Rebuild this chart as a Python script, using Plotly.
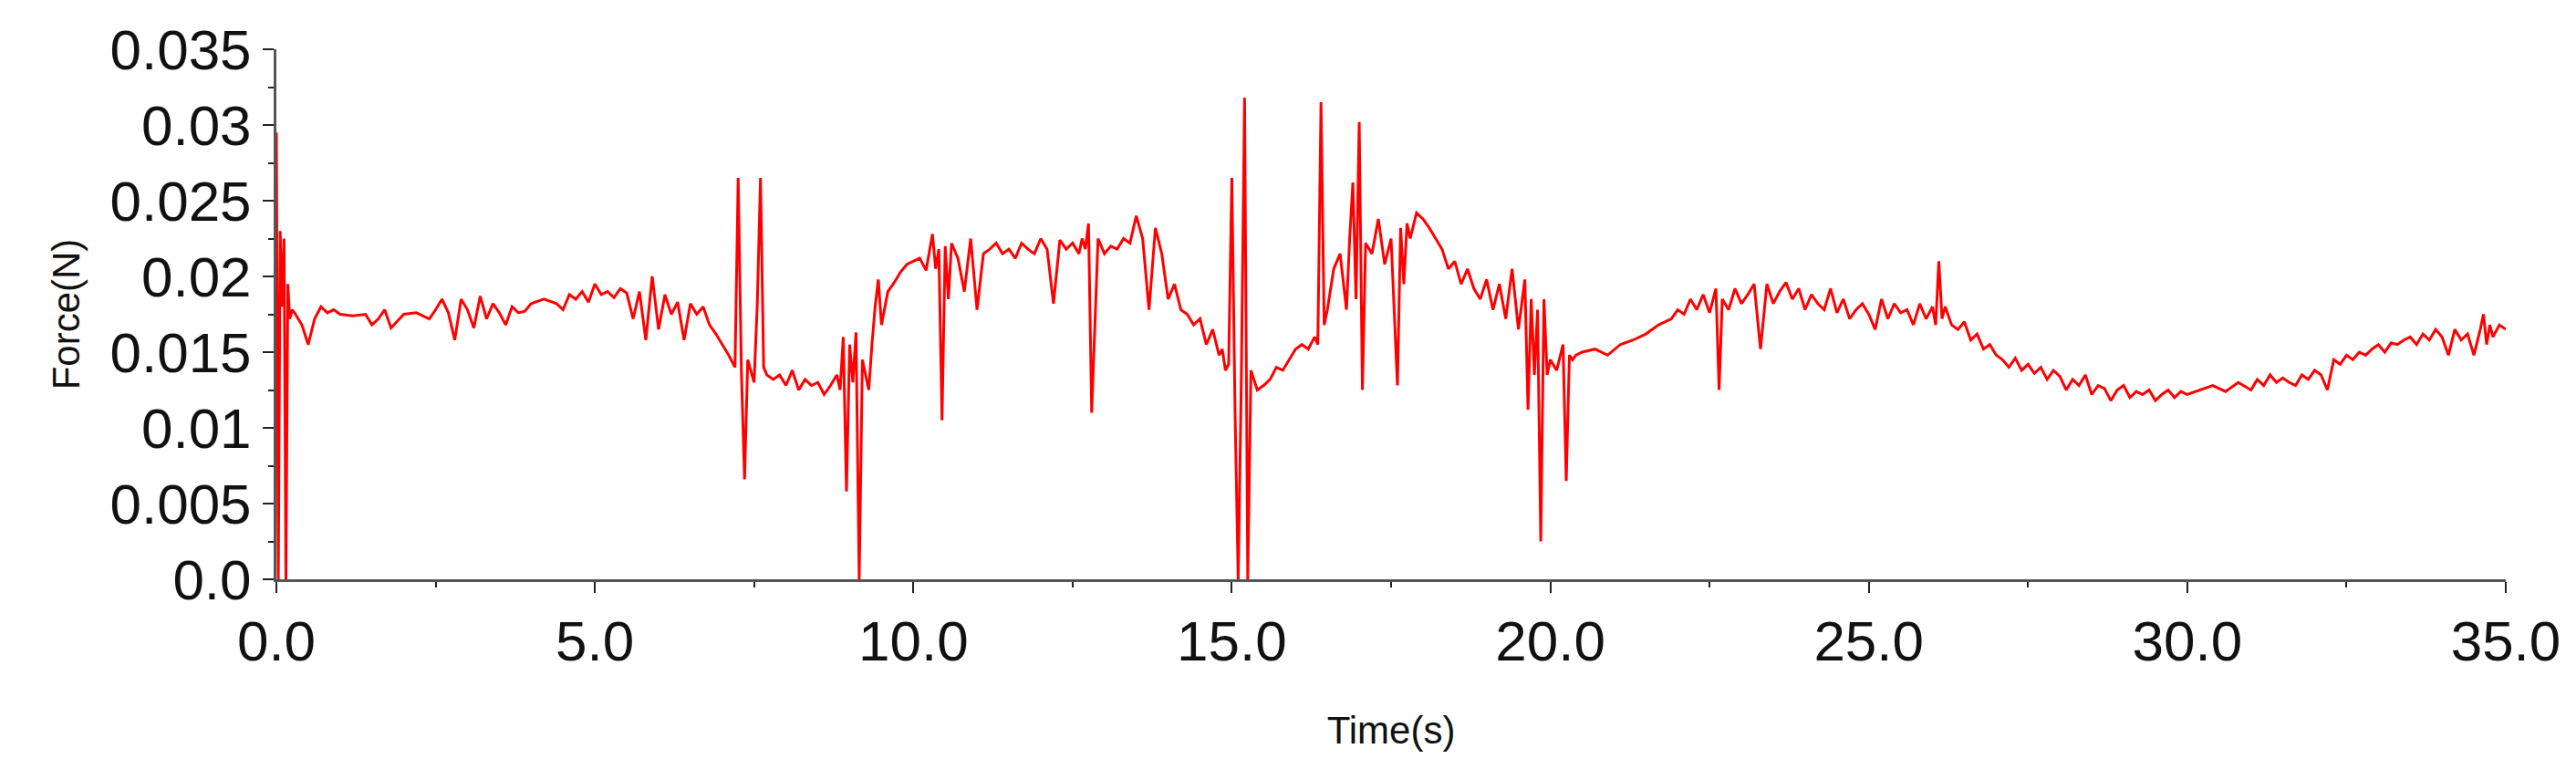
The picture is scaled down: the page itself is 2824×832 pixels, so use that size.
import plotly.graph_objects as go

# (time s, force N) samples
samples = [
(0.0,0.0295),(0.03,0.0),(0.06,0.023),(0.09,0.018),(0.12,0.0225),(0.15,0.0),(0.18,0.0195),(0.21,0.0172),
(0.25,0.0178),(0.3,0.0175),(0.4,0.0168),(0.5,0.0155),(0.6,0.0172),(0.7,0.018),(0.8,0.0176),(0.9,0.0178),
(1.0,0.0175),(1.2,0.0174),(1.4,0.0175),(1.5,0.0168),(1.6,0.0172),(1.7,0.0178),(1.8,0.0166),(2.0,0.0175),
(2.2,0.0176),(2.4,0.0172),(2.5,0.0178),(2.6,0.0185),(2.7,0.0176),(2.8,0.0158),(2.9,0.0185),(3.0,0.0178),
(3.1,0.0166),(3.2,0.0187),(3.3,0.0172),(3.4,0.0182),(3.5,0.0176),(3.6,0.0168),(3.7,0.018),(3.8,0.0176),
(3.9,0.0177),(4.0,0.0182),(4.2,0.0185),(4.4,0.0182),(4.5,0.0178),(4.6,0.0188),(4.7,0.0185),(4.8,0.019),
(4.9,0.0183),(5.0,0.0195),(5.1,0.0188),(5.2,0.019),(5.3,0.0186),(5.4,0.0192),(5.5,0.0189),(5.6,0.0172),
(5.7,0.019),(5.8,0.0158),(5.9,0.02),(6.0,0.0165),(6.1,0.0188),(6.2,0.0175),(6.3,0.0183),(6.4,0.0158),
(6.5,0.0182),(6.6,0.0175),(6.7,0.018),(6.8,0.0168),(6.9,0.0162),(7.0,0.0155),(7.1,0.0148),(7.2,0.014),
(7.25,0.0265),(7.3,0.0138),(7.35,0.0066),(7.4,0.0145),(7.5,0.013),(7.55,0.0182),(7.6,0.0265),(7.65,0.014),
(7.7,0.0135),(7.8,0.0132),(7.9,0.0135),(8.0,0.0128),(8.1,0.0138),(8.2,0.0125),(8.3,0.0132),(8.4,0.0128),
(8.5,0.013),(8.6,0.0122),(8.7,0.0128),(8.8,0.0135),(8.85,0.0125),(8.9,0.016),(8.95,0.0058),(9.0,0.0155),
(9.05,0.013),(9.1,0.0163),(9.15,0.0),(9.2,0.0145),(9.3,0.0125),(9.35,0.0155),(9.4,0.018),(9.45,0.0198),
(9.5,0.0168),(9.6,0.019),(9.7,0.0196),(9.8,0.0203),(9.9,0.0208),(10.0,0.021),(10.1,0.0212),(10.2,0.0204),
(10.3,0.0228),(10.35,0.0205),(10.4,0.0218),(10.45,0.0105),(10.5,0.022),(10.55,0.0185),(10.6,0.0222),
(10.7,0.0212),(10.8,0.019),(10.9,0.0225),(11.0,0.0178),(11.1,0.0215),(11.2,0.0218),(11.3,0.0222),
(11.4,0.0215),(11.5,0.0218),(11.6,0.0212),(11.7,0.0222),(11.8,0.0218),(11.9,0.0215),(12.0,0.0225),
(12.1,0.0218),(12.2,0.0182),(12.3,0.0224),(12.4,0.0218),(12.5,0.0222),(12.6,0.0215),(12.65,0.0225),
(12.7,0.0218),(12.75,0.0235),(12.8,0.011),(12.9,0.0225),(13.0,0.0215),(13.1,0.022),(13.2,0.0218),
(13.3,0.0225),(13.4,0.0222),(13.5,0.024),(13.6,0.0225),(13.7,0.0178),(13.8,0.0232),(13.9,0.0215),
(14.0,0.0185),(14.1,0.0195),(14.2,0.0178),(14.3,0.0175),(14.4,0.0168),(14.5,0.0172),(14.6,0.0155),
(14.7,0.0165),(14.8,0.0148),(14.85,0.0152),(14.9,0.0138),(14.95,0.0142),(15.0,0.0265),(15.05,0.0112),
(15.1,0.0),(15.15,0.0135),(15.2,0.0318),(15.25,0.0),(15.3,0.0138),(15.4,0.0125),(15.5,0.0128),
(15.6,0.0132),(15.7,0.014),(15.8,0.0138),(15.9,0.0145),(16.0,0.0152),(16.1,0.0155),(16.2,0.0152),
(16.3,0.016),(16.35,0.0155),(16.4,0.0315),(16.45,0.0168),(16.5,0.0178),(16.6,0.0205),(16.7,0.0215),
(16.8,0.0178),(16.85,0.0225),(16.9,0.0262),(16.95,0.0185),(17.0,0.0302),(17.05,0.0125),(17.1,0.0222),
(17.2,0.0215),(17.3,0.0238),(17.4,0.0208),(17.5,0.0225),(17.6,0.0128),(17.65,0.0232),(17.7,0.0195),
(17.75,0.0235),(17.8,0.0225),(17.9,0.0242),(18.0,0.0238),(18.1,0.0232),(18.2,0.0225),(18.3,0.0218),
(18.4,0.0205),(18.5,0.021),(18.6,0.0195),(18.7,0.0205),(18.8,0.0192),(18.9,0.0185),(19.0,0.0198),
(19.1,0.0178),(19.2,0.0195),(19.3,0.0172),(19.4,0.0205),(19.5,0.0165),(19.6,0.0198),(19.65,0.0112),
(19.7,0.0185),(19.75,0.0135),(19.8,0.0178),(19.85,0.0025),(19.9,0.0185),(19.95,0.0135),(20.0,0.0145),
(20.1,0.0138),(20.2,0.0155),(20.25,0.0065),(20.3,0.0148),(20.35,0.0145),(20.4,0.0148),(20.5,0.015),
(20.7,0.0152),(20.9,0.0148),(21.1,0.0155),(21.3,0.0158),(21.5,0.0162),(21.7,0.0168),(21.9,0.0172),
(22.0,0.0178),(22.1,0.0175),(22.2,0.0185),(22.3,0.0178),(22.4,0.0188),(22.5,0.0176),(22.6,0.0192),
(22.65,0.0125),(22.7,0.0185),(22.8,0.0178),(22.9,0.0192),(23.0,0.0182),(23.1,0.0188),(23.2,0.0195),
(23.3,0.0152),(23.4,0.0195),(23.5,0.0182),(23.6,0.019),(23.7,0.0196),(23.8,0.0185),(23.9,0.0192),
(24.0,0.0178),(24.1,0.0188),(24.2,0.0182),(24.3,0.0178),(24.4,0.0192),(24.5,0.0176),(24.6,0.0185),
(24.7,0.0172),(24.8,0.0178),(24.9,0.0182),(25.0,0.0175),(25.1,0.0165),(25.2,0.0185),(25.3,0.0172),
(25.4,0.0182),(25.5,0.0176),(25.6,0.0178),(25.7,0.0168),(25.8,0.0182),(25.9,0.0172),(26.0,0.018),
(26.05,0.0168),(26.1,0.021),(26.15,0.0172),(26.2,0.018),(26.3,0.0168),(26.4,0.0165),(26.5,0.017),
(26.6,0.0158),(26.7,0.0162),(26.8,0.0152),(26.9,0.0155),(27.0,0.0148),(27.1,0.0145),(27.2,0.014),
(27.3,0.0146),(27.4,0.0138),(27.5,0.0142),(27.6,0.0136),(27.7,0.014),(27.8,0.0132),(27.9,0.0138),
(28.0,0.0134),(28.1,0.0125),(28.2,0.0132),(28.3,0.0128),(28.4,0.0135),(28.5,0.0122),(28.6,0.0128),
(28.7,0.0126),(28.8,0.0118),(28.9,0.0125),(29.0,0.0128),(29.1,0.012),(29.2,0.0124),(29.3,0.0122),
(29.4,0.0125),(29.5,0.0118),(29.6,0.0122),(29.7,0.0125),(29.8,0.012),(29.9,0.0124),(30.0,0.0122),
(30.2,0.0125),(30.4,0.0128),(30.6,0.0124),(30.8,0.013),(31.0,0.0125),(31.1,0.0132),(31.2,0.0128),
(31.3,0.0135),(31.4,0.013),(31.5,0.0133),(31.6,0.013),(31.7,0.0128),(31.8,0.0135),(31.9,0.0132),
(32.0,0.0138),(32.1,0.0135),(32.2,0.0125),(32.3,0.0145),(32.4,0.0142),(32.5,0.0148),(32.6,0.0145),
(32.7,0.015),(32.8,0.0148),(32.9,0.0152),(33.0,0.0155),(33.1,0.015),(33.2,0.0156),(33.3,0.0155),
(33.4,0.0158),(33.5,0.016),(33.6,0.0155),(33.7,0.0162),(33.8,0.0158),(33.9,0.0165),(34.0,0.016),
(34.1,0.0148),(34.2,0.0165),(34.3,0.0158),(34.4,0.0162),(34.5,0.0148),(34.6,0.0165),(34.65,0.0175),
(34.7,0.0155),(34.75,0.0168),(34.8,0.016),(34.9,0.0168),(35.0,0.0165),
]
time_s = [t for t, _ in samples]
force_n = [f for _, f in samples]

x_tickvals = [0, 5, 10, 15, 20, 25, 30, 35]
x_ticktext = ["0.0", "5.0", "10.0", "15.0", "20.0", "25.0", "30.0", "35.0"]
y_tickvals = [0, 0.005, 0.01, 0.015, 0.02, 0.025, 0.03, 0.035]
y_ticktext = ["0.0", "0.005", "0.01", "0.015", "0.02", "0.025", "0.03", "0.035"]

fig = go.Figure(go.Scatter(x=time_s, y=force_n, mode="lines",
                           line=dict(color="#ff0000", width=3), showlegend=False))

axis_common = dict(showline=True, linecolor="#555555", linewidth=3, ticks="outside",
                   tickcolor="#222", tickwidth=2, ticklen=12, showgrid=False, zeroline=False,
                   ticklabeloverflow="allow",
                   tickfont=dict(family="Liberation Sans", size=62, color="#111"),
                   minor=dict(ticks="outside", ticklen=6, tickcolor="#222", tickwidth=2))

fig.update_xaxes(range=[0, 35.0001], tickvals=x_tickvals, ticktext=x_ticktext, minor_dtick=2.5,
                 title=dict(text="Time(s)", font=dict(family="Liberation Sans", size=42, color="#111"), standoff=50),
                 **axis_common)
fig.update_yaxes(range=[0, 0.035001], tickvals=y_tickvals, ticktext=y_ticktext, minor_dtick=0.0025,
                 title=dict(text="Force(N)", font=dict(family="Liberation Sans", size=42, color="#111"), standoff=20),
                 **axis_common)

fig.update_layout(width=2824, height=832, plot_bgcolor="white", paper_bgcolor="white",
                  margin=dict(l=295, r=85, t=36, b=205))
fig.write_html("out.html")
